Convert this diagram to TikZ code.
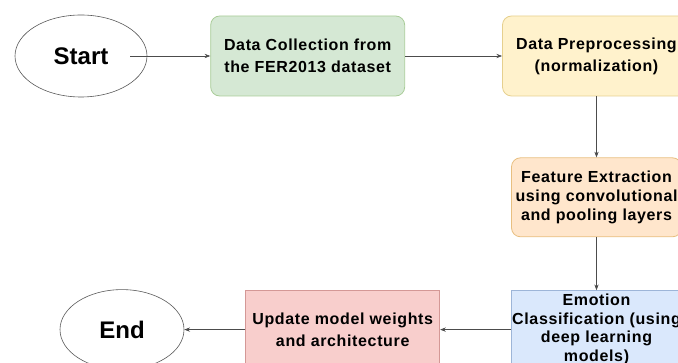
\documentclass[tikz,border=0pt]{standalone}
\usepackage{fontspec}
\setmainfont{Liberation Sans}
\newfontfamily\flowfont{Liberation Sans}[LetterSpace=4]
\usepackage{xcolor}
\usetikzlibrary{arrows.meta, positioning, shapes.geometric}

\definecolor{collectfill}{HTML}{D5E8D4}
\definecolor{collectline}{HTML}{A9CC98}
\definecolor{prepfill}{HTML}{FFF2CC}
\definecolor{prepline}{HTML}{E6D08E}
\definecolor{featfill}{HTML}{FFE6CC}
\definecolor{featline}{HTML}{E8BF80}
\definecolor{classfill}{HTML}{DAE8FC}
\definecolor{classline}{HTML}{9DB5D8}
\definecolor{updfill}{HTML}{F8CECC}
\definecolor{updline}{HTML}{D49896}

\begin{document}
\begin{tikzpicture}[
  x=1pt, y=-1pt,
  >=Stealth,
  every node/.style={align=center, inner sep=0pt, font=\flowfont\bfseries\fontsize{16}{22}\selectfont},
  terminal/.style={draw=black!65, line width=0.6pt, ellipse, font=\bfseries\fontsize{24}{28}\selectfont},
  stepbox/.style={draw, line width=0.8pt, rounded corners=9pt},
  plainbox/.style={draw, line width=0.8pt},
  flowline/.style={->, draw=black!70, line width=0.6pt}
]
\useasboundingbox (0,0) rectangle (678,363);

\node[terminal, minimum width=132pt, minimum height=82pt] (start) at (81,56) {Start};
\node[stepbox, fill=collectfill, draw=collectline, minimum width=194pt, minimum height=80pt]
  (collect) [right=63pt of start] {Data Collection from\\the FER2013 dataset};
\node[stepbox, fill=prepfill, draw=prepline, minimum width=188pt, minimum height=80pt]
  (preprocess) [right=97pt of collect] {Data Preprocessing\\(normalization)};
\node[stepbox, fill=featfill, draw=featline, minimum width=170pt, minimum height=79pt,
  font=\flowfont\bfseries\fontsize{16}{19}\selectfont]
  (feature) [below=61pt of preprocess] {Feature Extraction\\using convolutional\\and pooling layers};
\node[plainbox, fill=classfill, draw=classline, minimum width=170pt, minimum height=78pt,
  font=\flowfont\bfseries\fontsize{16}{18.5}\selectfont]
  (classify) [below=53pt of feature] {Emotion\\Classification (using\\deep learning\\models)};
\node[plainbox, fill=updfill, draw=updline, minimum width=194pt, minimum height=78pt]
  (update) [left=71pt of classify] {Update model weights\\and architecture};
\node[terminal, minimum width=124pt, minimum height=80pt] (finish) [left=61pt of update] {End};

\draw[flowline] ([xshift=49pt]start.center) -- (collect);
\draw[flowline] (collect) -- (preprocess);
\draw[flowline] (preprocess) -- (feature);
\draw[flowline] (feature) -- (classify);
\draw[flowline] (classify) -- (update);
\draw[flowline] (update) -- (finish);
\end{tikzpicture}
\end{document}
